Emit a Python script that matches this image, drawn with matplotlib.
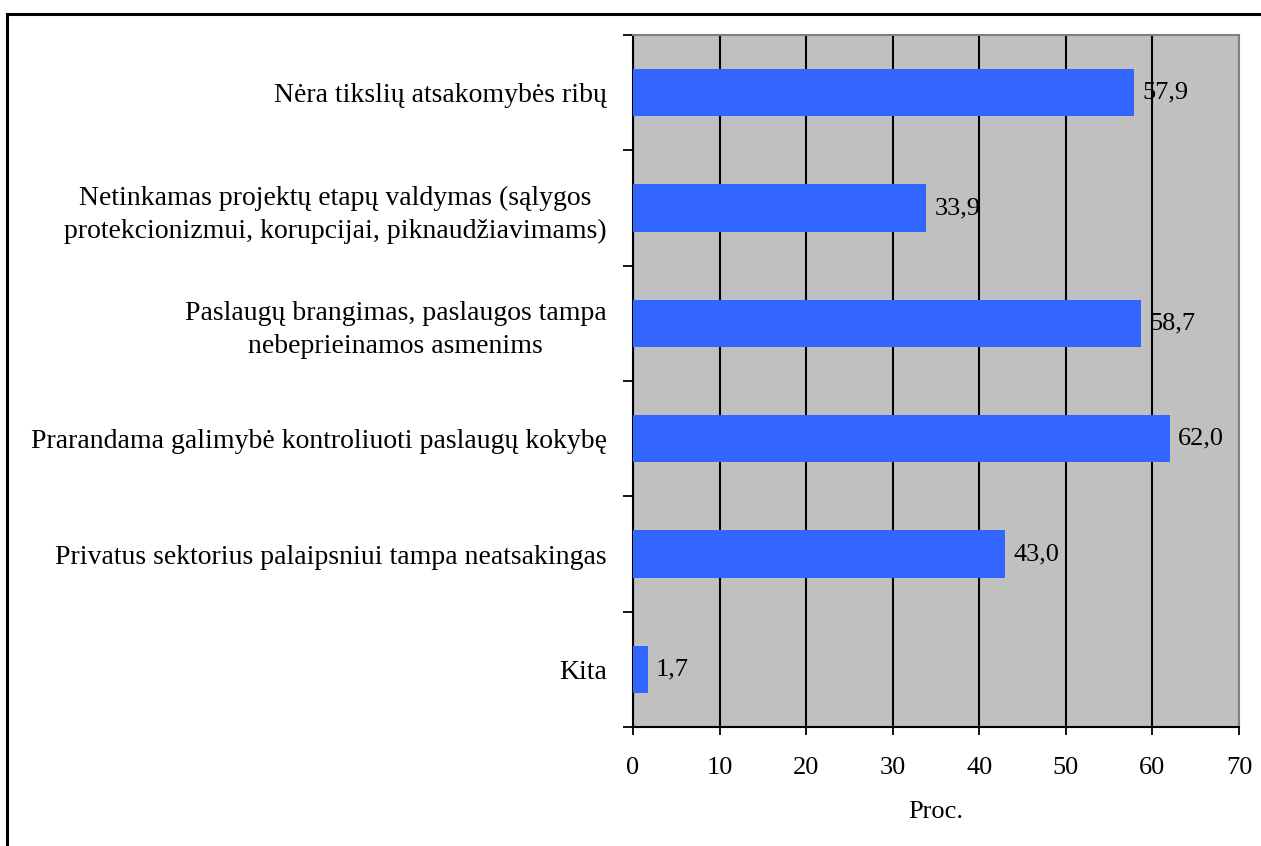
import matplotlib
matplotlib.use("Agg")
import matplotlib.pyplot as plt
from matplotlib.patches import Rectangle

plt.rcParams["font.family"] = ["Liberation Serif", "DejaVu Serif"]

# data (top to bottom)
categories = [
    "Nėra tikslių atsakomybės ribų",
    "Netinkamas projektų etapų valdymas (sąlygos\nprotekcionizmui, korupcijai, piknaudžiavimams)",
    "Paslaugų brangimas, paslaugos tampa\nnebeprieinamos asmenims",
    "Prarandama galimybė kontroliuoti paslaugų kokybę",
    "Privatus sektorius palaipsniui tampa neatsakingas",
    "Kita",
]
values = [57.9, 33.9, 58.7, 62.0, 43.0, 1.7]
value_labels = ["57,9", "33,9", "58,7", "62,0", "43,0", "1,7"]
xticks = [0, 10, 20, 30, 40, 50, 60, 70]

W, H = 1261, 846
fig = plt.figure(figsize=(W / 100, H / 100), dpi=100)

# outer frame (runs off the right and bottom edges)
fig.patches.append(Rectangle((7 / W, -0.1), 1.2, 1 - 14 / H + 0.1,
                             transform=fig.transFigure, fill=False,
                             edgecolor="black", linewidth=2.2))

ax = fig.add_axes([633 / W, 1 - 727 / H, (1239 - 633) / W, (727 - 35) / H])
ax.set_facecolor("#C0C0C0")

n = len(categories)
ypos = list(range(n))
ax.barh(ypos, values, height=0.41, color="#3366FF", zorder=3)

for y, v, lab in zip(ypos, values, value_labels):
    ax.annotate(lab, (v, y), xytext=(6, 0), textcoords="offset points",
                va="center", ha="left", fontsize=19, zorder=4)

ax.set_xlim(0, 70)
ax.set_ylim(n - 0.5, -0.5)
ax.set_xticks(xticks)
ax.set_xticklabels([str(t) for t in xticks], fontsize=19)
ax.xaxis.grid(True, color="black", linewidth=1.5, zorder=1)
ax.set_axisbelow(True)

# category labels, ticks at category boundaries
ax.set_yticks([i - 0.5 for i in range(n + 1)])
ax.set_yticklabels([])
ax.set_yticks(ypos, minor=True)
ax.set_yticklabels(categories, minor=True, fontsize=20, ha="right",
                   multialignment="center", linespacing=1.4)
ax.tick_params(axis="y", which="minor", length=0, pad=19)
ax.tick_params(axis="y", which="major", length=7, width=1.3, direction="out")
ax.tick_params(axis="x", length=6, width=1.3, direction="out", pad=15.5)

ax.set_xlabel("Proc.", fontsize=19, labelpad=16)

for side in ("left", "bottom"):
    ax.spines[side].set_color("black")
    ax.spines[side].set_linewidth(1.5)
for side in ("top", "right"):
    ax.spines[side].set_color("#808080")
    ax.spines[side].set_linewidth(1.5)

fig.savefig("out.png", dpi=100)
